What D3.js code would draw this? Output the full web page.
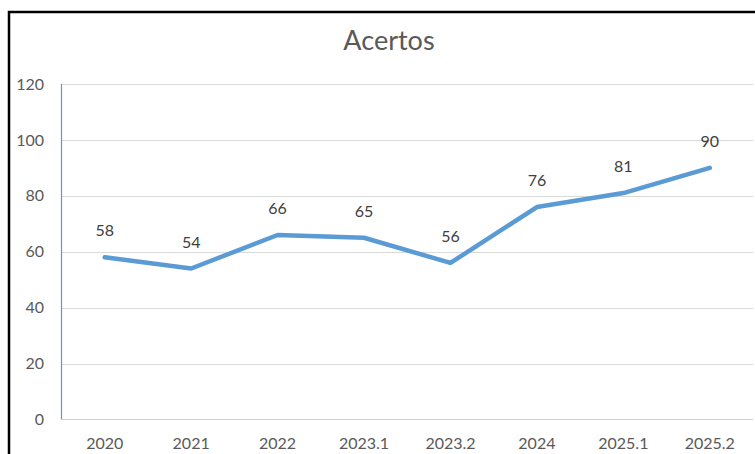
<!DOCTYPE html>
<html>
<head>
<meta charset="utf-8">
<script src="https://cdn.jsdelivr.net/npm/d3@7"></script>
<style>
  body { margin: 0; background: #fff; }
  text { font-family: Lato, "Open Sans", sans-serif; }
</style>
</head>
<body>
<div id="chart"></div>
<script>
const categories = ['2020', '2021', '2022', '2023.1', '2023.2', '2024', '2025.1', '2025.2'];
const acertos = [58, 54, 66, 65, 56, 76, 81, 90];
const yTicks = [0, 20, 40, 60, 80, 100, 120];

const width = 755;
const height = 454;

const svg = d3.select('#chart')
    .append('svg')
    .attr('width', width)
    .attr('height', height);

// chart border (right and bottom run off the picture)
svg.append('rect')
    .attr('x', 9)
    .attr('y', 12)
    .attr('width', 760)
    .attr('height', 460)
    .attr('fill', '#fff')
    .attr('stroke', '#000')
    .attr('stroke-width', 2.5)

const plotLeft = 61.5, plotRight = 753, plotTop = 84, plotBottom = 419.5;

const x = d3.scaleBand()
    .domain(categories)
    .range([plotLeft, plotRight])

const y = d3.scaleLinear()
    .domain([0, 120])
    .range([plotBottom, plotTop])

// gridlines
svg.append('g')
    .selectAll('line')
    .data(yTicks.filter(d => d > 0))
    .join('line')
    .attr('x1', plotLeft)
    .attr('x2', plotRight)
    .attr('y1', d => Math.round(y(d)) + 0.5)
    .attr('y2', d => Math.round(y(d)) + 0.5)
    .attr('stroke', '#d9d9d9')
    .attr('stroke-width', 1)

// bottom axis line
svg.append('line')
    .attr('x1', plotLeft)
    .attr('x2', plotRight)
    .attr('y1', plotBottom)
    .attr('y2', plotBottom)
    .attr('stroke', '#d0d0d0')

// left axis line
svg.append('line')
    .attr('x1', plotLeft)
    .attr('x2', plotLeft)
    .attr('y1', plotTop)
    .attr('y2', plotBottom)
    .attr('stroke', '#5b9bd5')
    .attr('stroke-width', 1.2)

// y tick labels
svg.append('g')
    .selectAll('text')
    .data(yTicks)
    .join('text')
    .attr('x', 44)
    .attr('y', d => y(d))
    .attr('dy', '0.35em')
    .attr('text-anchor', 'end')
    .attr('fill', '#595959')
    .style('font-size', '16px')
    .text(d => d)

// x tick labels
svg.append('g')
    .selectAll('text')
    .data(categories)
    .join('text')
    .attr('x', d => x(d) + x.bandwidth() / 2)
    .attr('y', 449)
    .attr('text-anchor', 'middle')
    .attr('fill', '#595959')
    .style('font-size', '16px')
    .text(d => d)

// title
svg.append('text')
    .attr('x', 389)
    .attr('y', 50)
    .attr('text-anchor', 'middle')
    .attr('fill', '#595959')
    .style('font-size', '27px')
    .text('Acertos')

const line = d3.line()
    .x((d, i) => x(categories[i]) + x.bandwidth() / 2)
    .y(d => y(d))

svg.append('path')
    .datum(acertos)
    .attr('d', line)
    .attr('fill', 'none')
    .attr('stroke', '#5b9bd5')
    .attr('stroke-width', 4.5)
    .attr('stroke-linecap', 'round')
    .attr('stroke-linejoin', 'round')

// data labels
svg.append('g')
    .selectAll('text')
    .data(acertos)
    .join('text')
    .attr('x', (d, i) => x(categories[i]) + x.bandwidth() / 2)
    .attr('y', d => y(d) - 21)
    .attr('text-anchor', 'middle')
    .attr('fill', '#404040')
    .style('font-size', '16px')
    .text(d => d)
</script>
</body>
</html>
